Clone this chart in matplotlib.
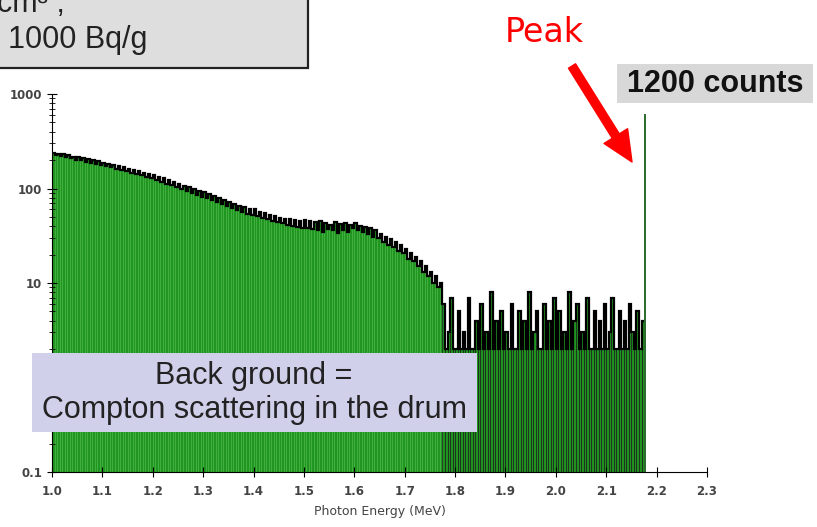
import numpy as np
import matplotlib
matplotlib.use("Agg")
import matplotlib.pyplot as plt
from matplotlib.patches import Rectangle, FancyArrowPatch
from matplotlib.ticker import LogLocator, NullFormatter

# spectrum, 0.005 MeV bins starting at 1.0 MeV (counts per bin)
bin_start = 1.0
bin_width = 0.005
counts = [
    240, 228, 232, 222, 230, 214, 224, 208, 218, 202, 213, 198, 208, 192, 204, 186, 198, 183, 194, 178,
    188, 174, 183, 168, 178, 162, 172, 158, 168, 152, 162, 147, 158, 142, 152, 138, 146, 133, 141, 128,
    138, 122, 132, 118, 128, 112, 122, 108, 117, 103, 112, 99, 107, 94, 103, 90, 98, 86, 94, 82,
    91, 79, 87, 75, 83, 72, 79, 68, 76, 65, 72, 62, 69, 59, 66, 57, 63, 54, 60, 52,
    60, 51, 57, 49, 55, 47, 53, 45, 51, 44, 49, 43, 48, 41, 47, 40, 46, 39, 45, 38,
    46, 38, 45, 37, 44, 36, 45, 35, 43, 37, 41, 36, 44, 34, 42, 36, 43, 35, 41, 38,
    43, 36, 40, 35, 39, 33, 38, 31, 36, 30, 33, 27, 31, 25, 29, 24, 27, 22, 25, 21,
    23, 18, 21, 17, 19, 15, 17, 13, 15, 12, 13, 10, 12, 9, 10, 6, 2, 3, 7, 2,
    2, 5, 2, 3, 2, 7, 2, 2, 4, 2, 6, 2, 3, 2, 8, 2, 4, 2, 5, 2,
    3, 2, 6, 2, 2, 5, 2, 4, 2, 8, 2, 3, 5, 2, 2, 6, 2, 4, 2, 7,
    2, 5, 2, 3, 2, 8, 2, 4, 6, 2, 3, 2, 7, 2, 2, 5, 2, 4, 2, 6,
    2, 3, 7, 2, 2, 5, 2, 4, 2, 6, 3, 2, 5, 2, 4,
]
compton_edge = 1.775  # above this only scattered background remains
peak_energy = 2.176
peak_counts = 620

x_ticks = [1.0, 1.1, 1.2, 1.3, 1.4, 1.5, 1.6, 1.7, 1.8, 1.9, 2.0, 2.1, 2.2, 2.3]
y_ticks = [0.1, 1, 10, 100, 1000]
y_tick_labels = ["0.1", "1", "10", "100", "1000"]

W, H = 817, 527


def fx(x):
    return x / W


def fy(y):
    return 1 - y / H


fig = plt.figure(figsize=(W / 100, H / 100), dpi=100)
ax = fig.add_axes([fx(52), fy(472), (707 - 52) / W, (472 - 94) / H])
ax.set_yscale("log")

counts = np.array(counts, dtype=float)
energy = bin_start + bin_width * np.arange(len(counts))
low = energy < compton_edge

ax.bar(energy[low], counts[low], width=bin_width, align="edge",
       color="#209620", edgecolor="#40b540", linewidth=0.4)
ax.bar(energy[~low], counts[~low], width=bin_width, align="edge",
       color="#1f921f", edgecolor="#1a1a1a", linewidth=0.5)

# black outline on top of the spectrum
edges = np.append(energy, energy[-1] + bin_width)
ax.step(edges, np.append(counts, counts[-1]), where="post", color="black", lw=1.6,
        solid_joinstyle="miter", solid_capstyle="butt")

# the full energy peak
ax.bar(peak_energy, peak_counts, width=0.004, align="center", color="#2e6e2e", edgecolor="none")

ax.set_xlim(1.0, 2.3)
ax.set_ylim(0.1, 1000)
ax.spines["top"].set_visible(False)
ax.spines["right"].set_visible(False)
ax.set_xticks(x_ticks)
ax.set_xticklabels([f"{t:.1f}" for t in x_ticks])
ax.set_yticks(y_ticks)
ax.set_yticklabels(y_tick_labels)
ax.yaxis.set_minor_locator(LogLocator(base=10, subs=np.arange(2, 10)))
ax.yaxis.set_minor_formatter(NullFormatter())
ax.tick_params(which="major", direction="inout", length=7, width=0.8,
               labelsize=8.5, labelcolor="#444444")
ax.tick_params(axis="x", pad=6)
ax.tick_params(which="minor", direction="inout", length=4, width=0.6)
for lab in ax.get_xticklabels() + ax.get_yticklabels():
    lab.set_family("DejaVu Sans")
    lab.set_fontweight("bold")
ax.set_xlabel("Photon Energy (MeV)", fontsize=9, family="DejaVu Sans", color="#444444", labelpad=5)

# slide annotations
fig.add_artist(Rectangle((fx(-10), fy(68)), fx(318), 1 - fy(68) + 0.05, transform=fig.transFigure,
                         facecolor="#dedede", edgecolor="#222222", lw=1.6))
fig.text(fx(-3), fy(12), "cm³ ,", fontsize=22, family="Liberation Sans", color="#222222", va="baseline")
fig.text(fx(8), fy(48), "1000 Bq/g", fontsize=22, family="Liberation Sans", color="#222222", va="baseline")

fig.text(fx(505), fy(42), "Peak", fontsize=24, color="red", va="baseline")
fig.add_artist(FancyArrowPatch((fx(572), fy(66)), (fx(632), fy(162)), transform=fig.transFigure,
                               arrowstyle="simple,head_width=2.0,head_length=2.2,tail_width=0.6",
                               mutation_scale=10, color="red", shrinkA=0, shrinkB=0))

fig.add_artist(Rectangle((fx(617), fy(103)), fx(813 - 617), (103 - 64) / H, transform=fig.transFigure,
                         facecolor="#d8d8d8", edgecolor="none"))
fig.text(fx(715), fy(84), "1200 counts", fontsize=22, fontweight="bold", family="Liberation Sans",
         ha="center", va="center", color="#111111")

fig.add_artist(Rectangle((fx(32), fy(432)), fx(477 - 32), (432 - 353) / H, transform=fig.transFigure,
                         facecolor="#d0d0eb", edgecolor="none"))
fig.text(fx(254), fy(376), "Back ground =", fontsize=22, family="Liberation Sans",
         ha="center", va="center", color="#222222")
fig.text(fx(254), fy(410), "Compton scattering in the drum", fontsize=22, family="Liberation Sans",
         ha="center", va="center", color="#222222")

fig.savefig("out.png", dpi=100)
